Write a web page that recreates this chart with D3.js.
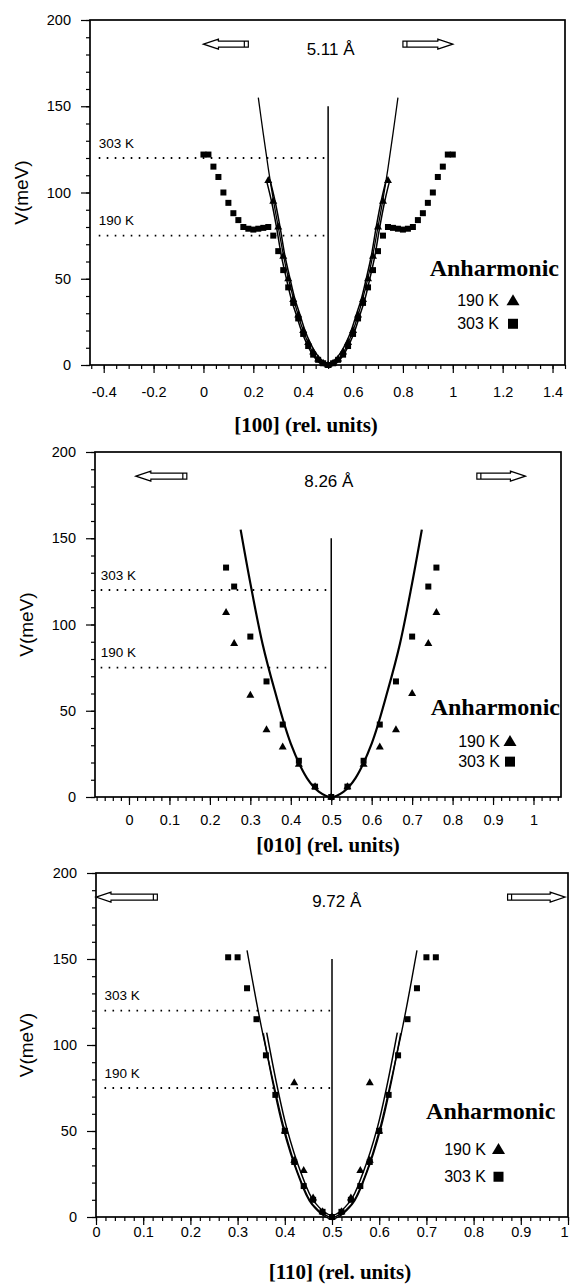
<!DOCTYPE html>
<html>
<head>
<meta charset="utf-8">
<script src="https://cdn.jsdelivr.net/npm/d3@7"></script>
<style>
body { margin: 0; background: #fff; }
svg { display: block; }
.ax text { font-family: "Liberation Sans", Arial, sans-serif; font-size: 14.5px; fill: #000; }
.ax line { stroke: #000; stroke-width: 1.2; }
.ax path { display: none; }
</style>
</head>
<body>
<svg width="572" height="1285"></svg>
<script>
// shared
yTicks = [0, 50, 100, 150, 200];
levelV = [120, 75];
levelLabels = ["303 K", "190 K"];
legendLabels = ["190 K", "303 K"];

// [100] panel
p1Spacing = "5.11 Å";
p1AxisLabel = "[100] (rel. units)";
p1XTicks = [-0.4, -0.2, 0, 0.2, 0.4, 0.6, 0.8, 1, 1.2, 1.4];
p1SquareX = [0.00, 0.02, 0.04, 0.06, 0.08, 0.10, 0.12, 0.14, 0.16, 0.18, 0.20, 0.22, 0.24, 0.26, 0.28, 0.30, 0.32, 0.34, 0.36, 0.38, 0.40, 0.42, 0.44, 0.46, 0.48, 0.50,
             0.52, 0.54, 0.56, 0.58, 0.60, 0.62, 0.64, 0.66, 0.68, 0.70, 0.72, 0.74, 0.76, 0.78, 0.80, 0.82, 0.84, 0.86, 0.88, 0.90, 0.92, 0.94, 0.96, 0.98, 1.00];
p1SquareV = [122, 122, 115, 109, 100, 94, 88, 84, 80, 79, 78.5, 79, 79.5, 80, 75, 66, 55, 45, 36, 27, 18, 11, 6, 3, 1, 0,
             1, 3, 6, 11, 18, 27, 36, 45, 55, 66, 75, 80, 79.5, 79, 78.5, 79, 80, 84, 88, 94, 100, 109, 115, 122, 122];
p1TriangleX = [0.26, 0.28, 0.30, 0.32, 0.34, 0.36, 0.38, 0.40, 0.42, 0.44, 0.46, 0.48, 0.50, 0.52, 0.54, 0.56, 0.58, 0.60, 0.62, 0.64, 0.66, 0.68, 0.70, 0.72, 0.74];
p1TriangleV = [107, 95, 80, 63, 50, 38, 29, 20, 13, 7.5, 3.5, 1, 0, 1, 3.5, 7.5, 13, 20, 29, 38, 50, 63, 80, 95, 107];
p1FitX = [0.22, 0.24, 0.26, 0.28, 0.30, 0.33, 0.36, 0.40, 0.44, 0.47, 0.50, 0.53, 0.56, 0.60, 0.64, 0.67, 0.70, 0.72, 0.74, 0.76, 0.78];
p1FitV = [155, 134, 114, 96, 80, 57, 39, 20, 7, 2, 0, 2, 7, 20, 39, 57, 80, 96, 114, 134, 155];

// [010] panel
p2Spacing = "8.26 Å";
p2AxisLabel = "[010] (rel. units)";
p2XTicks = [0, 0.1, 0.2, 0.3, 0.4, 0.5, 0.6, 0.7, 0.8, 0.9, 1];
p2SquareX = [0.24, 0.26, 0.30, 0.34, 0.38, 0.42, 0.46, 0.50, 0.54, 0.58, 0.62, 0.66, 0.70, 0.74, 0.76];
p2SquareV = [133, 122, 93, 67, 42, 21, 6, 0, 6, 21, 42, 67, 93, 122, 133];
p2TriangleX = [0.24, 0.26, 0.30, 0.34, 0.38, 0.42, 0.46, 0.50, 0.54, 0.58, 0.62, 0.66, 0.70, 0.74, 0.76];
p2TriangleV = [107, 89, 59, 39, 29, 19, 6, 0, 6, 19, 29, 39, 60, 89, 107];
p2FitX = [0.276, 0.30, 0.33, 0.36, 0.40, 0.44, 0.47, 0.50, 0.53, 0.56, 0.60, 0.64, 0.67, 0.70, 0.724];
p2FitV = [155, 124, 89, 62, 31, 11, 3, 0, 3, 11, 31, 62, 89, 124, 155];

// [110] panel
p3Spacing = "9.72 Å";
p3AxisLabel = "[110] (rel. units)";
p3XTicks = [0, 0.1, 0.2, 0.3, 0.4, 0.5, 0.6, 0.7, 0.8, 0.9, 1];
p3SquareX = [0.28, 0.30, 0.32, 0.34, 0.36, 0.38, 0.40, 0.42, 0.44, 0.46, 0.48, 0.50, 0.52, 0.54, 0.56, 0.58, 0.60, 0.62, 0.64, 0.66, 0.68, 0.70, 0.72];
p3SquareV = [151, 151, 133, 115, 94, 71, 50, 32, 18, 10, 3, 0, 3, 10, 18, 32, 50, 71, 94, 115, 133, 151, 151];
p3TriangleX = [0.40, 0.42, 0.42, 0.44, 0.46, 0.48, 0.50, 0.52, 0.54, 0.56, 0.58, 0.58, 0.60];
p3TriangleV = [50, 78, 33, 27, 11, 3, 0, 3, 11, 27, 33, 78, 50];
p3FitX = [0.32, 0.34, 0.35, 0.36, 0.38, 0.40, 0.43, 0.46, 0.50, 0.54, 0.57, 0.60, 0.62, 0.64, 0.65, 0.66, 0.68];
p3FitV = [155, 125, 111, 98, 73, 50, 24, 7, 0, 7, 24, 50, 73, 98, 111, 125, 155];
p3BandX = [0.358, 0.38, 0.40, 0.43, 0.46, 0.50, 0.54, 0.57, 0.60, 0.62, 0.642];
p3BandV = [107, 76, 52, 26, 8, 0, 8, 26, 52, 76, 107];

svg = d3.select('svg');

zip = (xs, vs) => xs.map((v, i) => [v, vs[i]]);

// hollow block arrow, tip at x0
arrowPath = (x0, x1, yc) => {
    dir = x1 > x0 ? 1 : -1;
    hl = 15 * dir, hh = 5, sh = 3;
    p = d3.path();
    p.moveTo(x0, yc);
    p.lineTo(x0 + hl, yc - hh);
    p.lineTo(x0 + hl, yc - sh);
    p.lineTo(x1, yc - sh);
    p.lineTo(x1, yc + sh);
    p.lineTo(x0 + hl, yc + sh);
    p.lineTo(x0 + hl, yc + hh);
    p.closePath();
    p.moveTo(x1 - 4 * dir, yc - sh);
    p.lineTo(x1 - 4 * dir, yc + sh);
    return p.toString();
};

function drawPanel(c) {
    x = d3.scaleLinear().domain(c.xDomain).range([c.left, c.right]);
    y = d3.scaleLinear().domain([0, 200]).range([c.bottom, c.top]);
    g = svg.append('g');

    // axes
    g.append('g').attr('class', 'ax')
        .attr('transform', `translate(${c.left},0)`)
        .call(d3.axisLeft(y).tickValues(d3.range(0, 201, 10)).tickSize(4).tickFormat(''));
    g.append('g').attr('class', 'ax')
        .attr('transform', `translate(${c.left},0)`)
        .call(d3.axisLeft(y).tickValues(yTicks).tickSize(9).tickPadding(10));

    minor = d3.range(Math.ceil(c.xDomain[0] / c.xMinor - 1e-6), Math.floor(c.xDomain[1] / c.xMinor + 1e-6) + 1)
        .map(i => i * c.xMinor);
    g.append('g').attr('class', 'ax')
        .attr('transform', `translate(0,${c.bottom})`)
        .call(d3.axisBottom(x).tickValues(minor).tickSize(4).tickFormat(''));
    xa = g.append('g').attr('class', 'ax')
        .attr('transform', `translate(0,${c.bottom})`)
        .call(d3.axisBottom(x).tickValues(c.xTicks).tickSize(8).tickFormat(d => String(d)));
    xa.selectAll('text').attr('y', c.tickLabelY).attr('dy', 0);
    // keep a label that sits on the page edge inside it
    xa.selectAll('text').filter(d => x(d) > 564).attr('text-anchor', 'end').attr('dx', 0);

    g.append('rect')
        .attr('x', c.left).attr('y', c.top)
        .attr('width', c.right - c.left).attr('height', c.bottom - c.top)
        .attr('fill', 'none').attr('stroke', '#000').attr('stroke-width', 1.7);

    // temperature levels
    levelV.forEach((v, i) => {
        g.append('line')
            .attr('x1', x(c.levelStart)).attr('x2', x(0.5))
            .attr('y1', y(v)).attr('y2', y(v))
            .attr('stroke', '#000').attr('stroke-width', 1.8)
            .attr('stroke-dasharray', '1.6,6.4');
        g.append('text')
            .attr('x', x(c.levelStart)).attr('y', y(v + 6))
            .attr('font-family', 'Liberation Sans, Arial, sans-serif')
            .attr('font-size', 13.5)
            .text(levelLabels[i]);
    });

    g.append('line')
        .attr('x1', x(0.5)).attr('x2', x(0.5))
        .attr('y1', y(0)).attr('y2', y(150))
        .attr('stroke', '#000').attr('stroke-width', 1.5);

    line = d3.line().x(d => x(d[0])).y(d => y(d[1])).curve(d3.curveCatmullRom);

    if (c.band) {
        g.append('path').attr('d', line(c.band))
            .attr('fill', 'none').attr('stroke', '#000').attr('stroke-width', 5);
        g.append('path').attr('d', line(c.band))
            .attr('fill', 'none').attr('stroke', '#fff').attr('stroke-width', 2);
    }
    g.append('path').attr('d', line(c.fit))
        .attr('fill', 'none').attr('stroke', '#000').attr('stroke-width', c.fitWidth);

    g.selectAll('.sq').data(c.squares).enter().append('rect')
        .attr('x', d => x(d[0]) - 3).attr('y', d => y(d[1]) - 3)
        .attr('width', 6).attr('height', 6).attr('fill', '#000');
    g.selectAll('.tri').data(c.triangles).enter().append('path')
        .attr('d', d => {
            px = x(d[0]); py = y(d[1]);
            return `M${px},${py - 4.5}L${px + 4},${py + 2.5}L${px - 4},${py + 2.5}Z`;
        })
        .attr('fill', '#000');

    // header: arrows and lattice spacing
    ay = y(186);
    g.append('path').attr('d', arrowPath(x(c.leftArrow[0]), x(c.leftArrow[1]), ay))
        .attr('fill', '#fff').attr('stroke', '#000').attr('stroke-width', 1.2);
    g.append('path').attr('d', arrowPath(x(c.rightArrow[1]), x(c.rightArrow[0]), ay))
        .attr('fill', '#fff').attr('stroke', '#000').attr('stroke-width', 1.2);
    g.append('text')
        .attr('x', x(c.spacingX)).attr('y', y(180))
        .attr('text-anchor', 'middle')
        .attr('font-family', 'Liberation Sans, Arial, sans-serif')
        .attr('font-size', 17)
        .text(c.spacing);

    // legend
    lx = c.right - c.legend[0];
    g.append('text')
        .attr('x', lx).attr('y', y(c.legend[1]))
        .attr('text-anchor', 'end')
        .attr('font-family', 'Liberation Serif, Times New Roman, serif')
        .attr('font-weight', 'bold').attr('font-size', 24)
        .text('Anharmonic');
    kx = c.right - c.legend[2];
    mx = c.right - c.legend[3];
    [c.legend[4], c.legend[5]].forEach((v, i) => {
        g.append('text')
            .attr('x', kx).attr('y', y(v))
            .attr('text-anchor', 'end')
            .attr('font-family', 'Liberation Sans, Arial, sans-serif')
            .attr('font-size', 16)
            .text(legendLabels[i]);
    });
    my1 = y(c.legend[4]) - 6, my2 = y(c.legend[5]) - 5;
    g.append('path').attr('d', `M${mx},${my1 - 6}L${mx + 6.5},${my1 + 5}L${mx - 6.5},${my1 + 5}Z`).attr('fill', '#000');
    g.append('rect').attr('x', mx - 5).attr('y', my2 - 5).attr('width', 10).attr('height', 10).attr('fill', '#000');

    // axis titles
    g.append('text')
        .attr('transform', `translate(${c.yLabelX},${(c.top + c.bottom) / 2}) rotate(-90)`)
        .attr('text-anchor', 'middle')
        .attr('font-family', 'Liberation Sans, Arial, sans-serif')
        .attr('font-size', 19)
        .text('V(meV)');
    g.append('text')
        .attr('x', c.xLabel[0]).attr('y', c.xLabel[1])
        .attr('text-anchor', 'middle')
        .attr('font-family', 'Liberation Serif, Times New Roman, serif')
        .attr('font-weight', 'bold').attr('font-size', 21)
        .text(c.axisLabel);
}

drawPanel({
    left: 90, right: 565, top: 20, bottom: 365,
    xDomain: [-0.455, 1.45], xTicks: p1XTicks, xMinor: 0.05, tickLabelY: 32,
    squares: zip(p1SquareX, p1SquareV), triangles: zip(p1TriangleX, p1TriangleV),
    fit: zip(p1FitX, p1FitV), fitWidth: 1.3, band: zip(p1TriangleX, p1TriangleV),
    levelStart: -0.42, spacing: p1Spacing, spacingX: 0.51,
    leftArrow: [0.0, 0.18], rightArrow: [0.80, 1.0],
    legend: [6, 51.6, 66, 52, 34, 21],
    yLabelX: 28, xLabel: [306, 432], axisLabel: p1AxisLabel
});

drawPanel({
    left: 95, right: 561, top: 452, bottom: 797,
    xDomain: [-0.084, 1.068], xTicks: p2XTicks, xMinor: 0.02, tickLabelY: 28,
    squares: zip(p2SquareX, p2SquareV), triangles: zip(p2TriangleX, p2TriangleV),
    fit: zip(p2FitX, p2FitV), fitWidth: 2.2, band: null,
    levelStart: -0.07, spacing: p2Spacing, spacingX: 0.494,
    leftArrow: [0.017, 0.143], rightArrow: [0.86, 0.98],
    legend: [1, 47.5, 61, 51, 29, 17.6],
    yLabelX: 33, xLabel: [328, 852], axisLabel: p2AxisLabel
});

drawPanel({
    left: 96, right: 568, top: 873, bottom: 1217,
    xDomain: [0, 1], xTicks: p3XTicks, xMinor: 0.02, tickLabelY: 20,
    squares: zip(p3SquareX, p3SquareV), triangles: zip(p3TriangleX, p3TriangleV),
    fit: zip(p3FitX, p3FitV), fitWidth: 1.4, band: zip(p3BandX, p3BandV),
    levelStart: 0.018, spacing: p3Spacing, spacingX: 0.51,
    leftArrow: [0.0, 0.13], rightArrow: [0.872, 0.994],
    legend: [12.6, 57, 82, 69.5, 36, 20.5],
    yLabelX: 33, xLabel: [340, 1279], axisLabel: p3AxisLabel
});
</script>
</body>
</html>
